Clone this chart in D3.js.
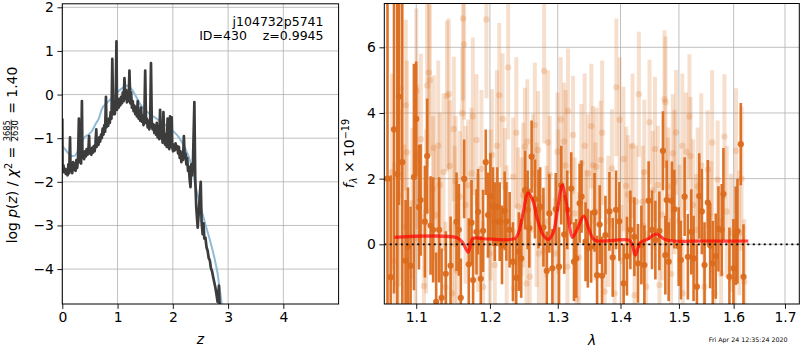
<html>
<head>
<meta charset="utf-8">
<script type="text/javascript" src="https://cdn.jsdelivr.net/npm/d3@7"></script>
<style>
    body { margin: 0; background: white; }
    text { font-family: "DejaVu Sans", sans-serif; fill: black; white-space: pre; }
    line.grid { stroke: #b0b0b0; stroke-width: 0.8; }
    rect.frame { fill: none; stroke: black; stroke-width: 1; }
</style>
</head>
<body>
<script>
// ---- left panel: log p(z) ----
var pzZ = [
    0.000,0.005,0.020,0.035,0.050,0.065,0.080,0.095,0.110,0.125,
    0.140,0.150,0.165,0.180,0.195,0.210,0.225,0.240,0.255,0.270,
    0.285,0.300,0.310,0.325,0.340,0.355,0.365,0.380,0.395,0.410,
    0.425,0.440,0.455,0.470,0.485,0.495,0.510,0.525,0.540,0.555,
    0.570,0.585,0.600,0.615,0.625,0.640,0.655,0.670,0.685,0.700,
    0.715,0.730,0.745,0.760,0.775,0.790,0.800,0.815,0.830,0.845,
    0.860,0.875,0.890,0.905,0.920,0.935,0.950,0.965,0.980,0.990,
    1.005,1.020,1.035,1.050,1.065,1.080,1.095,1.110,1.125,1.140,
    1.155,1.170,1.185,1.200,1.215,1.230,1.245,1.260,1.275,1.290,
    1.305,1.320,1.335,1.350,1.365,1.380,1.395,1.410,1.425,1.440,
    1.455,1.470,1.485,1.500,1.515,1.530,1.545,1.560,1.575,1.590,
    1.605,1.620,1.635,1.650,1.665,1.680,1.695,1.710,1.725,1.740,
    1.755,1.770,1.785,1.800,1.815,1.830,1.845,1.860,1.875,1.890,
    1.905,1.920,1.935,1.950,1.965,1.980,1.990,2.005,2.020,2.035,
    2.050,2.065,2.080,2.095,2.110,2.125,2.140,2.155,2.170,2.185,
    2.200,2.215,2.230,2.245,2.260,2.275,2.290,2.305,2.320,2.335,
    2.350,2.365,2.390,2.405,2.425,2.450,2.470,2.490,2.505,2.520,
    2.540,2.555,2.570,2.590,2.610,2.630,2.650,2.670,2.690,2.710,
    2.730,2.750,2.770,2.790,2.810,2.835,2.850,2.870
];
var pzLogp = [
    -0.55,-1.75,-1.62,-1.78,-1.70,-1.82,-1.72,-1.85,-1.60,-1.80,
    -0.98,-1.75,-1.62,-1.80,-1.55,-1.72,-1.58,-1.75,-1.50,-1.68,
    -1.45,-0.55,-1.55,-1.40,-1.58,-0.15,-1.45,-1.35,-1.48,-1.30,
    -1.42,-1.25,-1.38,-1.32,-0.95,-1.35,-1.28,-1.38,-1.22,-1.33,
    -1.18,-1.30,-1.12,-0.80,-1.20,-1.05,-1.15,-0.98,-1.08,-0.92,
    -1.00,-0.78,-0.92,-0.70,-0.85,-0.05,-0.75,-0.62,-0.72,-0.55,
    -0.65,-0.40,-0.55, 0.82,-0.45,-0.30,-0.45,-0.20, 1.22,-0.35,
    -0.15,-0.30,-0.10,-0.25,-0.05,-0.20, 0.05,-0.15, 0.38,-0.10,
     0.10,-0.18,-0.05,-0.15, 0.55,-0.20, 0.05,-0.30,-0.15,-0.38,
    -0.25,-0.45,-0.30,-0.50,-0.15,-0.55,-0.40,-0.60,-0.30,-0.62,
    -0.48,-0.70,-0.55, 0.55,-0.65,-0.55,-0.75,-0.60,-0.80,-0.62,
     0.72,-0.72,-0.80,-0.68,-0.88,-0.72,-0.92,-0.65,-0.98,-0.80,
    -1.02,-0.35,-1.00,-0.85,-1.10,-0.40,-1.05,-1.15,-0.90,-1.20,
    -0.55,-1.15,-1.25,-0.50,-1.20,-0.52,-1.20,-1.30,-1.15,-1.28,
    -1.12,-1.25,-1.18,-1.35,-1.20,-1.45,-1.30,-1.55,-1.35,-1.50,
    -0.95,-1.45,-1.35,-1.60,-1.45,-1.75,-1.65,-1.95,-2.12,-1.60,
    -1.85,-1.55,-0.17,-1.90,-2.60,-3.05,-2.70,-2.30,-2.00,-2.90,
    -3.20,-2.95,-3.30,-3.28,-3.50,-3.58,-3.75,-3.80,-3.98,-4.05,
    -4.18,-4.30,-4.42,-4.58,-4.75,-4.38,-4.95,-5.30
];
var smoothZ = [0.00,0.03,0.08,0.13,0.18,0.23,0.28,0.34,0.40,0.47,0.54,0.60,0.66,0.72,0.80,0.87,
    0.95,1.02,1.10,1.17,1.22,1.27,1.34,1.41,1.50,1.59,1.68,1.78,1.87,1.96,2.04,2.11,
    2.17,2.23,2.28,2.32,2.37,2.41,2.47,2.53,2.59,2.65,2.71,2.77,2.81,2.84,2.87,2.90];
var smoothLogp = [-1.18,-1.22,-1.30,-1.38,-1.41,-1.40,-1.30,-1.12,-0.98,-0.92,-0.83,-0.68,-0.55,-0.32,-0.20,-0.11,
    -0.02,0.08,0.16,0.21,0.18,0.10,-0.06,-0.22,-0.36,-0.45,-0.53,-0.62,-0.70,-0.79,-0.88,-0.98,
    -1.10,-1.25,-1.40,-1.55,-1.80,-2.09,-2.40,-2.70,-2.98,-3.24,-3.52,-3.84,-4.10,-4.38,-4.65,-4.95];

// ---- right panel: spectrum ----
var waveDark = [
    1.0633,1.0673,1.0715,1.0757,1.0778,1.0820,1.0863,1.0893,1.0927,1.0970,
    1.1000,1.1035,1.1057,1.1113,1.1143,1.1188,1.1222,1.1262,1.1302,1.1334,
    1.1391,1.1455,1.1536,1.1567,1.1594,1.1640,1.1704,1.1742,1.1764,1.1811,
    1.1833,1.1871,1.1903,1.1941,1.1973,1.2007,1.2044,1.2068,1.2106,1.2139,
    1.2172,1.2210,1.2235,1.2282,1.2330,1.2378,1.2416,1.2451,1.2509,1.2546,
    1.2571,1.2605,1.2655,1.2708,1.2733,1.2782,1.2833,1.2872,1.2918,1.2969,
    1.3020,1.3054,1.3100,1.3147,1.3209,1.3251,1.3287,1.3340,1.3371,1.3434,
    1.3470,1.3523,1.3577,1.3618,1.3660,1.3698,1.3753,1.3818,1.3872,1.3926,
    1.3981,1.4052,1.4107,1.4164,1.4231,1.4292,1.4349,1.4400,1.4473,1.4530,
    1.4588,1.4657,1.4719,1.4761,1.4784,1.4819,1.4877,1.4919,1.4995,1.5035,
    1.5101,1.5159,1.5220,1.5261,1.5321,1.5364,1.5411,1.5460,1.5520,1.5563,
    1.5611,1.5666,1.5716,1.5777,1.5809,1.5921,1.5997,1.6040,1.6073,1.6136,
    1.6188
];
var fluxDark = [
     2.00,-1.00, 3.50, 2.14, 4.50, 2.50,-0.50,-0.07,-0.65, 2.05,
     3.82, 1.13, 1.35, 0.69, 2.69, 0.57, 0.44,-1.75, 0.44,-1.63,
    -0.90,-0.65, 0.69, 0.44,-1.63, 1.99,-0.61, 0.66,-1.09, 0.38,
     0.99,-1.05, 0.41, 2.50, 0.89, 1.47, 1.15, 0.69, 1.15, 0.69,
    -0.02, 1.02, 0.70, 0.44,-0.53,-1.02,-0.22,-0.43, 1.65, 1.05,
     0.49, 2.67, 1.38, 1.07, 1.15, 0.52,-0.81, 0.94,-0.73, 1.07,
    -0.68, 1.80, 0.30, 1.05, 1.70,-0.53,-0.43, 1.25, 1.45, 0.08,
    -0.12,-0.07, 0.97,-0.94, 0.60,-0.96, 0.28, 1.00,-0.40, 1.05,
     0.70,-1.19,-0.36, 0.44, 0.23,-0.58,-0.02,-0.63, 1.33, 0.44,
     0.13, 0.41, 2.85,-0.33, 1.35,-0.53, 1.32, 1.07,-0.07,-0.48,
     1.45,-0.38, 0.38,-0.43,-1.29, 1.47, 1.00,-0.63, 1.27,-0.04,
    -0.58,-0.36, 0.47, 0.44, 1.53,-0.99,-0.73, 0.26, 0.40, 3.05,
    -0.99
];
var errDark = [
    6.00, 3.10, 5.00, 6.00, 3.30, 5.00, 1.85, 1.80, 1.80, 3.45,
    1.75, 1.90, 1.70, 1.70, 1.75, 1.50, 1.60, 1.50, 1.60, 1.50,
    1.30, 1.50, 1.50, 1.40, 1.20, 1.20, 1.40, 1.30, 1.30, 1.30,
    1.30, 1.30, 1.25, 1.00, 1.30, 1.30, 1.20, 1.20, 1.20, 1.20,
    1.20, 1.20, 1.20, 1.15, 1.20, 1.20, 1.20, 1.20, 1.20, 1.20,
    1.20, 1.10, 1.20, 1.20, 1.20, 1.20, 1.20, 1.20, 1.20, 1.10,
    1.20, 1.20, 1.20, 1.20, 1.10, 1.20, 1.20, 1.20, 1.10, 1.20,
    1.20, 1.10, 1.20, 1.20, 1.20, 1.20, 1.20, 1.20, 1.20, 1.20,
    1.20, 1.20, 1.20, 1.20, 1.20, 1.20, 1.20, 1.20, 1.20, 1.20,
    1.20, 1.20, 1.20, 1.20, 1.20, 1.20, 1.20, 1.20, 1.20, 1.20,
    1.20, 1.30, 1.30, 1.30, 1.30, 1.30, 1.30, 1.30, 1.30, 1.30,
    1.30, 1.30, 1.30, 1.40, 1.40, 1.50, 1.50, 1.50, 1.60, 1.25,
    1.60
];
var waveLight = [
    1.0764,1.0777,1.0800,1.0843,1.0865,1.0951,1.1002,1.1015,1.1100,1.1143,
    1.1165,1.1178,1.1221,1.1231,1.1266,1.1310,1.1385,1.1407,1.1430,1.1445,
    1.1476,1.1499,1.1522,1.1540,1.1580,1.1614,1.1625,1.1639,1.1695,1.1742,
    1.1811,1.1833,1.1904,1.1950,1.1998,1.2030,1.2069,1.2132,1.2180,1.2213,
    1.2261,1.2334,1.2348,1.2407,1.2457,1.2505,1.2530,1.2542,1.2578,1.2627,
    1.2653,1.2702,1.2713,1.2777,1.2793,1.2830,1.2878,1.2955,1.2996,1.3046,
    1.3097,1.3150,1.3159,1.3237,1.3263,1.3290,1.3368,1.3447,1.3473,1.3526,
    1.3552,1.3607,1.3675,1.3740,1.3859,1.3903,1.3931,1.3985,1.4013,1.4095,
    1.4122,1.4178,1.4234,1.4262,1.4306,1.4373,1.4385,1.4431,1.4488,1.4545,
    1.4631,1.4659,1.4746,1.4763,1.4803,1.4815,1.4862,1.4891,1.4950,1.5009,
    1.5067,1.5128,1.5187,1.5205,1.5306,1.5335,1.5457,1.5518,1.5580,1.5641,
    1.5702,1.5765,1.5827,1.5951,1.6014,1.6046,1.6108,1.6204,
    // bars whose dots hide behind the dark points
    1.0690,1.0720,1.0880,1.0990,1.1060,1.1130,1.1290,1.1360,1.1510,1.1660,
    1.1760,1.1880,1.2010,1.2100,1.2240,1.2380,1.2480,1.2680,1.2850,1.3010,
    1.3120,1.3330,1.3420,1.3590,1.3700,1.3800,1.4050,1.4200,1.4400,1.4580,
    1.4700,1.4920,1.5060,1.5250,1.5400,1.5600,1.5870,1.6150
];
var fluxLight = [
    -1.19, 1.50, 4.75, 0.54, 4.24, 1.25, 4.68, 2.67,-1.27, 4.84,
     5.23, 5.00, 1.70, 2.94, 0.89, 1.81,-1.31, 4.52, 4.58, 2.39,
    -1.49, 3.51, 1.91,-0.80, 1.45, 3.99, 6.88, 6.09, 1.80, 2.16,
     3.18, 0.35,-1.30, 6.85,-0.28, 2.72,-0.63, 4.54, 3.82, 1.74,
     5.39, 2.06,-1.34, 1.15, 0.84, 2.97,-1.19, 3.13,-0.99, 2.16,
     3.63, 2.87,-0.28,-0.20, 5.28, 0.69, 2.11,-0.28, 2.82, 3.80,
     3.13,-0.68, 4.06, 3.33, 0.94,-1.65, 2.47, 0.56, 2.16, 3.60,
     2.41, 2.36, 2.57,-1.44, 2.31,-1.50, 4.78, 3.79,-0.50, 1.78,
     1.52, 1.35,-1.55, 1.30, 4.57, 1.30, 0.56,-1.29, 3.72, 1.65,
     1.81,-1.24, 4.42, 4.33, 1.45, 1.76,-0.90, 2.77, 3.41, 0.72,
    -1.49, 2.82, 3.89, 2.69, 0.44, 1.76,-1.29, 2.28, 0.84,-1.49,
     1.97,-0.90, 3.28, 0.35,-1.09, 2.85, 0.35,-1.14,
     2.20,-0.50, 2.80, 0.20, 3.20, 1.00, 3.00, 2.20, 0.60, 1.20,
     3.90, 2.30, 1.20, 3.00, 0.20, 3.40, 1.50, 0.90, 3.10, 1.30,
     2.40,-0.40, 3.00, 1.00, 3.40, 0.70, 2.60, 3.00, 2.20, 2.90,
     0.90, 1.90, 3.00, 1.20, 2.40, 3.10, 1.00, 2.00
];
var errLight = [
    2.5, 2.6, 2.8, 2.5, 2.6, 2.3, 2.5, 2.2, 2.2, 2.5,
    2.5, 2.3, 2.2, 2.2, 2.0, 2.2, 2.0, 2.3, 2.3, 2.0,
    2.0, 2.2, 2.0, 2.0, 2.0, 2.0, 2.5, 2.3, 2.0, 2.0,
    2.0, 1.8, 2.0, 2.4, 1.8, 2.0, 1.8, 2.2, 2.0, 1.8,
    2.2, 1.8, 1.8, 1.8, 1.8, 1.8, 1.8, 1.9, 1.7, 1.8,
    1.9, 1.8, 1.7, 1.7, 2.2, 1.7, 1.8, 1.7, 1.8, 1.9,
    1.8, 1.7, 1.9, 1.8, 1.7, 1.7, 1.8, 1.7, 1.8, 1.9,
    1.8, 1.8, 1.8, 1.7, 1.8, 1.7, 2.1, 1.9, 1.7, 1.8,
    1.8, 1.7, 1.7, 1.7, 1.9, 1.7, 1.7, 1.7, 1.9, 1.8,
    1.8, 1.7, 2.1, 2.0, 1.8, 1.8, 1.7, 1.8, 1.9, 1.7,
    1.7, 1.8, 1.9, 1.8, 1.7, 1.8, 1.7, 1.8, 1.7, 1.7,
    1.8, 1.7, 1.9, 1.8, 1.8, 1.9, 1.9, 1.9,
    3.0, 3.0, 2.8, 2.6, 2.6, 2.5, 2.6, 2.4, 2.4, 2.4,
    2.4, 2.4, 2.3, 2.3, 2.2, 2.3, 2.2, 2.2, 2.2, 2.2,
    2.3, 2.0, 2.2, 2.1, 2.2, 2.0, 2.2, 2.2, 2.2, 2.2,
    2.0, 2.2, 2.2, 2.0, 2.2, 2.2, 2.0, 2.2
];
var modelWave = [1.072,1.154,1.162,1.1696,1.176,1.19,1.236,1.242,1.248,1.2554,1.262,1.27,1.278,1.2855,
    1.293,1.300,1.3067,1.313,1.318,1.3226,1.330,1.3407,1.349,1.358,1.4145,1.420,1.4249,1.433,
    1.445,1.4605,1.4776,1.55,1.628];
var modelFlux = [0.21,0.20,0.05,-0.24,0.18,0.17,0.18,0.40,0.95,1.57,1.35,0.70,0.28,0.15,
    0.35,1.10,1.80,1.30,0.60,0.21,0.45,0.86,0.45,0.13,0.12,-0.05,-0.33,0.05,
    0.15,0.31,0.13,0.10,0.10];

// ticks
var zTicks = [0, 1, 2, 3, 4];
var logpTicks = [-4, -3, -2, -1, 0, 1, 2];
var waveTicks = [1.1, 1.2, 1.3, 1.4, 1.5, 1.6, 1.7];
var fluxTicks = [0, 2, 4, 6];

var orange = "#db6c1c";
var fs = 13.9;

var svg = d3.select("body").append("svg")
    .attr("width", 800)
    .attr("height", 350);

var zScale = d3.scaleLinear().domain([0, 5]).range([62.3, 338.6]);
var pScale = d3.scaleLinear().domain([-4.8, 2.08]).range([304, 3.8]);
var wScale = d3.scaleLog().domain([1.0593, 1.729]).range([384.3, 799.3]);
var fScale = d3.scaleLinear().domain([-1.818, 7.334]).range([304, 3.5]);

/*
 * grid, clip, ticks and frame of one panel; returns the clipped group for the data
 */
function makePanel(id, xs, ys, xt, yt, xfmt, yfmt)
{
    var x0 = xs.range()[0], x1 = xs.range()[1],
        y0 = ys.range()[1], y1 = ys.range()[0];
    var g = svg.append("g").attr("id", id);

    svg.append("clipPath").attr("id", "clip-" + id)
        .append("rect").attr("x", x0).attr("y", y0)
        .attr("width", x1 - x0).attr("height", y1 - y0);

    g.selectAll("line.gx").data(xt).enter().append("line")
        .attr("class", "grid")
        .attr("x1", d => xs(d)).attr("x2", d => xs(d))
        .attr("y1", y0).attr("y2", y1);
    g.selectAll("line.gy").data(yt).enter().append("line")
        .attr("class", "grid")
        .attr("x1", x0).attr("x2", x1)
        .attr("y1", d => ys(d)).attr("y2", d => ys(d));

    var data = g.append("g").attr("clip-path", "url(#clip-" + id + ")");

    var ax = g.append("g").attr("transform", "translate(0," + y1 + ")")
        .call(d3.axisBottom(xs).tickValues(xt).tickFormat(xfmt)
            .tickSize(4.9).tickPadding(3.5).tickSizeOuter(0));
    var ay = g.append("g").attr("transform", "translate(" + x0 + ",0)")
        .call(d3.axisLeft(ys).tickValues(yt).tickFormat(yfmt)
            .tickSize(4.9).tickPadding(3.5).tickSizeOuter(0));
    [ax, ay].forEach(function(a) {
        a.select(".domain").remove();
        a.attr("font-family", null).attr("font-size", null);
        a.selectAll("text").style("font-size", fs + "px");
        a.selectAll("line").attr("stroke", "black").attr("stroke-width", 0.9);
    });

    g.append("rect").attr("class", "frame")
        .attr("x", x0).attr("y", y0)
        .attr("width", x1 - x0).attr("height", y1 - y0);
    return data;
}

// lays out a mathtext-like label from pieces, centred on 0
function mathLabel(parent, pieces, size)
{
    var g = parent.append("g");
    var x = 0;
    pieces.forEach(function(p) {
        if (p.num)
        {
            var s = size * 0.6;
            var n = g.append("text").style("font-size", s + "px").attr("text-anchor", "middle").text(p.num);
            var d = g.append("text").style("font-size", s + "px").attr("text-anchor", "middle").text(p.den);
            var w = Math.max(n.node().getComputedTextLength(), d.node().getComputedTextLength()) + 2;
            n.attr("x", x + w / 2).attr("y", -7.4);
            d.attr("x", x + w / 2).attr("y", 0.3);
            g.append("line").attr("x1", x + 0.5).attr("x2", x + w - 0.5)
                .attr("y1", -6.2).attr("y2", -6.2)
                .attr("stroke", "black").attr("stroke-width", 0.7);
            x += w + 1;
        }
        else
        {
            var t = g.append("text")
                .style("font-size", size * (p.s || 1) + "px")
                .style("font-style", p.i ? "italic" : "normal")
                .attr("x", x).attr("y", p.dy || 0)
                .text(p.t);
            x += t.node().getComputedTextLength();
        }
    });
    g.attr("transform", "translate(" + (-x / 2) + ",0)");
}

// ---------- left panel ----------
var left = makePanel("pz", zScale, pScale, zTicks, logpTicks, d3.format("d"), d3.format("d"));

left.append("path")
    .datum(d3.range(smoothZ.length))
    .attr("fill", "none")
    .attr("stroke", "#8fbbd9")
    .attr("stroke-width", 2)
    .attr("d", d3.line().curve(d3.curveMonotoneX)
        .x(i => zScale(smoothZ[i])).y(i => pScale(smoothLogp[i])));

left.append("path")
    .datum(d3.range(pzZ.length))
    .attr("fill", "none")
    .attr("stroke", "#3c3c3c")
    .attr("stroke-width", 2.7)
    .attr("stroke-linejoin", "round")
    .attr("d", d3.line().x(i => zScale(pzZ[i])).y(i => pScale(pzLogp[i])));

svg.append("text").attr("x", 323.5).attr("y", 25.5).attr("text-anchor", "end")
    .style("font-size", "12.5px").text("j104732p5741");
svg.append("text").attr("x", 323.5).attr("y", 40).attr("text-anchor", "end")
    .style("font-size", "12.5px").text("ID=430    z=0.9945");

svg.append("text").attr("x", zScale(2.5)).attr("y", 344).attr("text-anchor", "middle")
    .style("font-size", fs + "px").style("font-style", "italic").text("z");

mathLabel(svg.append("g").attr("transform", "translate(17.4,155) rotate(-90)"), [
    {t: "log "}, {t: "p", i: true}, {t: "("}, {t: "z", i: true}, {t: ") / "},
    {t: "\u03c7", i: true}, {t: "2", s: 0.7, dy: -5.5}, {t: " = "},
    {num: "3685", den: "2630"}, {t: " = 1.40"}
], fs);

// ---------- right panel ----------
var right = makePanel("spec", wScale, fScale, waveTicks, fluxTicks, d3.format(".1f"), d3.format("d"));

function errorBars(g, wave, flux, err, width, r, alpha)
{
    var idx = d3.range(wave.length);
    g.append("g").selectAll("line").data(idx).enter().append("line")
        .attr("x1", i => wScale(wave[i])).attr("x2", i => wScale(wave[i]))
        .attr("y1", i => fScale(flux[i] - err[i])).attr("y2", i => fScale(flux[i] + err[i]))
        .attr("stroke", orange).attr("stroke-width", width).attr("stroke-opacity", alpha);
    g.append("g").selectAll("circle").data(idx).enter().append("circle")
        .attr("cx", i => wScale(wave[i])).attr("cy", i => fScale(flux[i]))
        .attr("r", r).attr("fill", orange).attr("fill-opacity", alpha);
}

errorBars(right, waveLight, fluxLight, errLight, 4, 3.2, 0.22);
errorBars(right, waveDark, fluxDark, errDark, 2.6, 3.1, 0.95);

right.append("path")
    .datum(d3.range(modelWave.length))
    .attr("fill", "none")
    .attr("stroke", "red")
    .attr("stroke-opacity", 0.7)
    .attr("stroke-width", 3.2)
    .attr("d", d3.line().curve(d3.curveCatmullRom)
        .x(i => wScale(modelWave[i])).y(i => fScale(modelFlux[i])));

right.append("line")
    .attr("x1", 384.3).attr("x2", 799.3)
    .attr("y1", fScale(0)).attr("y2", fScale(0))
    .attr("stroke", "black").attr("stroke-width", 1.8)
    .attr("stroke-dasharray", "2,3.5");

svg.append("text").attr("x", 592).attr("y", 345).attr("text-anchor", "middle")
    .style("font-size", fs + "px").style("font-style", "italic").text("\u03bb");

mathLabel(svg.append("g").attr("transform", "translate(354,153.5) rotate(-90)"), [
    {t: "f", i: true}, {t: "\u03bb", i: true, s: 0.7, dy: 3}, {t: " \u00d7 10"},
    {t: "\u221219", s: 0.7, dy: -5.5}
], fs);

svg.append("text").attr("x", 787.5).attr("y", 342).attr("text-anchor", "end")
    .style("font-size", "6.3px").text("Fri Apr 24 12:35:24 2020");
</script>
</body>
</html>
